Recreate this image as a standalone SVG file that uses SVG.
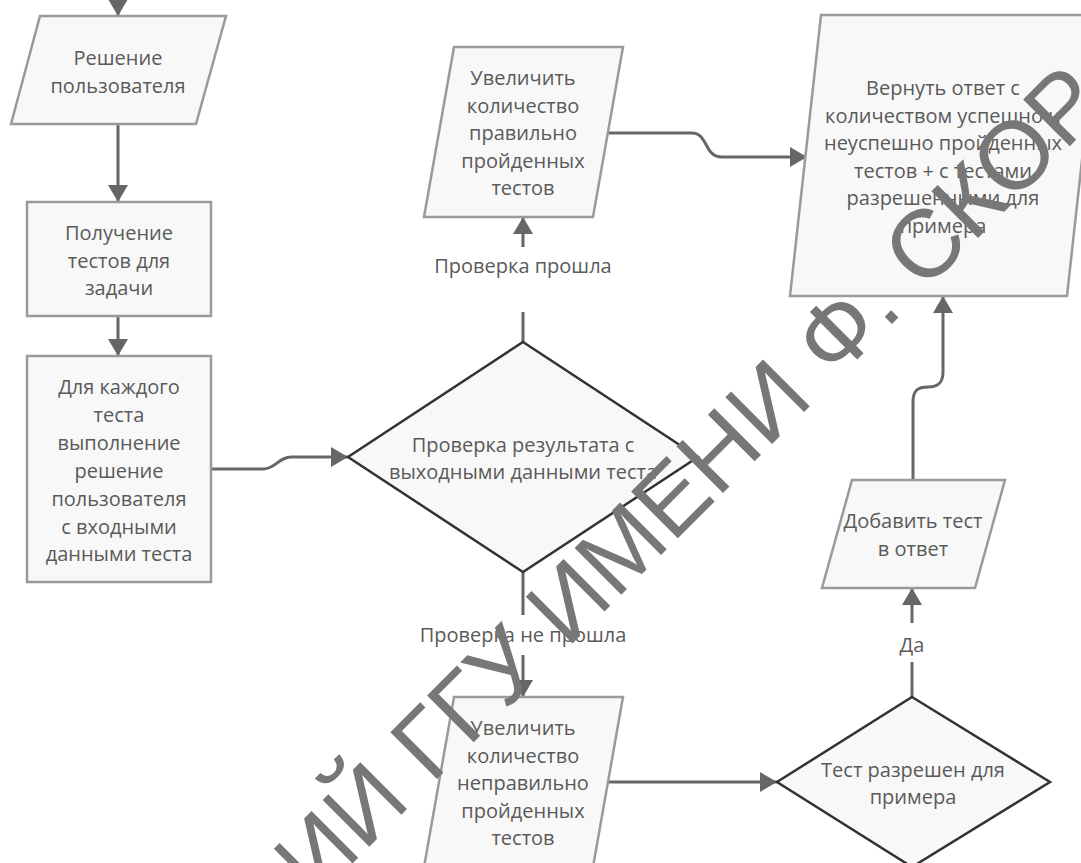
<svg xmlns="http://www.w3.org/2000/svg" width="1081" height="863" viewBox="0 0 1081 863">
<defs>
<style>
.box{fill:#f8f8f8;stroke:#9a9a9a;stroke-width:2.5}
.dia{fill:#f8f8f8;stroke:#333;stroke-width:2.5}
.t{font-family:"Open Sans","Liberation Sans",sans-serif;font-size:20px;fill:#5a5a5a;text-anchor:middle}
.c{fill:none;stroke:#666;stroke-width:3}
.wm{font-family:"Liberation Sans",Arial,sans-serif;font-size:96px;fill:#777}
</style>
<marker id="ah" markerUnits="userSpaceOnUse" markerWidth="18" markerHeight="20" refX="17" refY="10" orient="auto" viewBox="0 0 18 20">
<path d="M0,0 L17,10 L0,20 Z" fill="#666"/>
</marker>
</defs>
<rect width="1081" height="863" fill="#fff"/>
<g id="connectors">
<path class="c" d="M118,-20 V16" marker-end="url(#ah)"/>
<path class="c" d="M118,124 V202" marker-end="url(#ah)"/>
<path class="c" d="M118,316 V356" marker-end="url(#ah)"/>
<path class="c" d="M211,469 H263 C276,469 278,457 292,457 H348" marker-end="url(#ah)"/>
<path class="c" d="M523,342 V312"/>
<path class="c" d="M523,247 V217" marker-end="url(#ah)"/>
<path class="c" d="M608,133 H692 C708,133 704,157 722,157 H807" marker-end="url(#ah)"/>
<path class="c" d="M523,572 V615"/>
<path class="c" d="M523,655 V697" marker-end="url(#ah)"/>
<path class="c" d="M608,782 H777" marker-end="url(#ah)"/>
<path class="c" d="M912,697 V662"/>
<path class="c" d="M912,623 V588" marker-end="url(#ah)"/>
<path class="c" d="M913,480 V402 C913,390 918,387 928,387 C938,387 943,383 943,372 V296" marker-end="url(#ah)"/>
<text class="t" x="523" y="273">Проверка прошла</text>
<text class="t" x="523" y="642">Проверка не прошла</text>
<text class="t" x="912" y="652">Да</text>
</g>
<g id="n1">
<polygon class="box" points="40,16 226,16 196,124 11,124"/>
<text class="t" x="118" y="65">Решение</text>
<text class="t" x="118" y="93">пользователя</text>
</g>
<g id="n2">
<rect class="box" x="27" y="202" width="184" height="114"/>
<text class="t" x="119" y="240">Получение</text>
<text class="t" x="119" y="268">тестов для</text>
<text class="t" x="119" y="295">задачи</text>
</g>
<g id="n3">
<rect class="box" x="27" y="356" width="184" height="226"/>
<text class="t" x="119" y="394">Для каждого</text>
<text class="t" x="119" y="422">теста</text>
<text class="t" x="119" y="450">выполнение</text>
<text class="t" x="119" y="478">решение</text>
<text class="t" x="119" y="506">пользователя</text>
<text class="t" x="119" y="534">с входными</text>
<text class="t" x="119" y="561">данными теста</text>
</g>
<g id="n4">
<polygon class="box" points="454,47 623,47 593,217 424,217"/>
<text class="t" x="523" y="85">Увеличить</text>
<text class="t" x="523" y="113">количество</text>
<text class="t" x="523" y="140">правильно</text>
<text class="t" x="523" y="168">пройденных</text>
<text class="t" x="523" y="195">тестов</text>
</g>
<g id="n5">
<polygon class="box" points="821,15 1098,15 1067,296 790,296"/>
<text class="t" x="943" y="95">Вернуть ответ с</text>
<text class="t" x="943" y="123">количеством успешно и</text>
<text class="t" x="943" y="150">неуспешно пройденных</text>
<text class="t" x="943" y="178">тестов + с тестами</text>
<text class="t" x="943" y="205">разрешенными для</text>
<text class="t" x="943" y="233">примера</text>
</g>
<g id="d1">
<polygon class="dia" points="523,342 698,457 523,572 348,457"/>
<text class="t" x="523" y="452">Проверка результата с</text>
<text class="t" x="523" y="479">выходными данными теста</text>
</g>
<g id="n6">
<polygon class="box" points="852,480 1005,480 975,588 822,588"/>
<text class="t" x="913" y="528">Добавить тест</text>
<text class="t" x="913" y="556">в ответ</text>
</g>
<g id="n7">
<polygon class="box" points="454,697 623,697 593,867 424,867"/>
<text class="t" x="523" y="735">Увеличить</text>
<text class="t" x="523" y="763">количество</text>
<text class="t" x="523" y="790">неправильно</text>
<text class="t" x="523" y="818">пройденных</text>
<text class="t" x="523" y="845">тестов</text>
</g>
<g id="d2">
<polygon class="dia" points="912,697 1050,782 912,867 777,782"/>
<text class="t" x="913" y="777">Тест разрешен для</text>
<text class="t" x="913" y="804">примера</text>
</g>
<g id="watermark">
<text class="wm" transform="translate(315,901) rotate(-45)">ИЙ ГГУ ИМЕНИ Ф. СКОР</text>
</g>
</svg>
